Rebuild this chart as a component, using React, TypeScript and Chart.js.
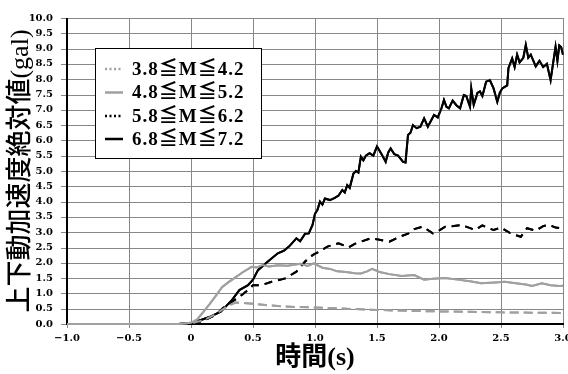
import React, { useEffect, useRef } from "react";
import { Chart, registerables } from "chart.js";

Chart.register(...registerables);

const seriesLabels = ["3.8≦M≦4.2", "4.8≦M≦5.2", "5.8≦M≦6.2", "6.8≦M≦7.2"];

const t1 = [-1, -0.1, 0, 0.1, 0.2, 0.3, 0.36, 0.45, 0.6, 0.75, 1.0, 1.25, 1.5, 1.75, 2.0, 2.25, 2.5, 2.75, 3.0];
const v1 = [0, 0, 0.03, 0.12, 0.32, 0.6, 0.7, 0.68, 0.62, 0.57, 0.54, 0.5, 0.46, 0.43, 0.41, 0.4, 0.38, 0.37, 0.36];

const t2 = [-1, -0.1, 0, 0.05, 0.1, 0.15, 0.2, 0.25, 0.3, 0.35, 0.42, 0.49, 0.53, 0.58, 0.63, 0.7, 0.78, 0.88, 0.94, 0.99, 1.06, 1.12, 1.18, 1.25, 1.32, 1.37, 1.42, 1.46, 1.52, 1.6, 1.7, 1.8, 1.88, 1.95, 2.05, 2.15, 2.25, 2.34, 2.45, 2.53, 2.62, 2.7, 2.75, 2.83, 2.9, 2.97, 3.0];
const v2 = [0, 0, 0.04, 0.15, 0.4, 0.65, 0.92, 1.2, 1.36, 1.5, 1.7, 1.87, 1.85, 1.93, 1.88, 1.92, 1.9, 1.97, 1.9, 1.98, 1.84, 1.8, 1.72, 1.7, 1.66, 1.65, 1.72, 1.8, 1.7, 1.63, 1.57, 1.6, 1.45, 1.48, 1.5, 1.45, 1.4, 1.33, 1.36, 1.38, 1.33, 1.29, 1.24, 1.33, 1.27, 1.24, 1.25];

const t3 = [-1, -0.1, 0, 0.1, 0.2, 0.27, 0.35, 0.41, 0.46, 0.5, 0.57, 0.65, 0.76, 0.85, 0.92, 0.98, 1.03, 1.1, 1.19, 1.27, 1.32, 1.37, 1.45, 1.52, 1.6, 1.68, 1.75, 1.8, 1.87, 1.95, 2.0, 2.05, 2.12, 2.18, 2.24, 2.29, 2.35, 2.44, 2.5, 2.56, 2.62, 2.66, 2.71, 2.78, 2.84, 2.89, 2.94, 2.98, 3.0];
const v3 = [0, 0, 0.02, 0.1, 0.3, 0.57, 0.78, 0.95, 1.11, 1.27, 1.27, 1.38, 1.49, 1.71, 2.04, 2.25, 2.36, 2.53, 2.64, 2.5, 2.62, 2.69, 2.8, 2.75, 2.69, 2.85, 2.95, 3.1, 3.18, 2.96, 3.05, 3.18, 3.2, 3.24, 3.15, 3.07, 3.22, 3.07, 3.15, 3.0, 2.9, 2.85, 3.13, 3.05, 3.2, 3.24, 3.15, 3.13, 3.05];

const t4 = [-1, -0.1, 0, 0.08, 0.16, 0.24, 0.33, 0.39, 0.46, 0.5, 0.54, 0.62, 0.7, 0.75, 0.79, 0.85, 0.88, 0.92, 0.95, 0.98, 1.0, 1.02, 1.04, 1.06, 1.08, 1.12, 1.16, 1.19, 1.22, 1.24, 1.26, 1.28, 1.31, 1.33, 1.35, 1.37, 1.39, 1.41, 1.44, 1.47, 1.5, 1.53, 1.57, 1.59, 1.61, 1.64, 1.67, 1.71, 1.73, 1.75, 1.77, 1.79, 1.82, 1.85, 1.88, 1.91, 1.93, 1.96, 1.99, 2.02, 2.04, 2.06, 2.08, 2.11, 2.14, 2.17, 2.2, 2.22, 2.25, 2.26, 2.28, 2.31, 2.33, 2.35, 2.38, 2.41, 2.44, 2.47, 2.49, 2.51, 2.55, 2.56, 2.59, 2.61, 2.63, 2.65, 2.68, 2.7, 2.72, 2.74, 2.78, 2.81, 2.84, 2.87, 2.9, 2.92, 2.94, 2.955, 2.97, 2.985, 3.0];
const v4 = [0, 0, 0.03, 0.13, 0.25, 0.4, 0.78, 1.11, 1.27, 1.45, 1.76, 2.04, 2.31, 2.4, 2.53, 2.8, 2.7, 2.95, 2.96, 3.24, 3.6, 3.73, 4.0, 3.9, 4.1, 4.05, 4.12, 4.2, 4.38, 4.3, 4.54, 4.45, 4.92, 5.0, 4.95, 5.47, 5.35, 5.5, 5.58, 5.5, 5.8, 5.6, 5.3, 5.6, 5.74, 5.55, 5.5, 5.3, 5.28, 6.18, 6.25, 6.5, 6.4, 6.45, 6.72, 6.45, 6.6, 6.83, 6.75, 7.05, 7.32, 7.1, 7.05, 7.3, 7.15, 7.05, 7.48, 7.45, 7.1, 7.7, 7.16, 7.55, 7.6, 7.45, 7.92, 7.97, 7.7, 7.26, 7.55, 7.7, 7.8, 8.36, 8.68, 8.4, 8.8, 8.55, 8.7, 9.12, 8.7, 8.8, 8.42, 8.6, 8.4, 8.5, 7.97, 8.52, 9.06, 8.6, 9.1, 9.05, 8.8];

const xTitle = "時間(s)";
const yTitle = "上下動加速度絶対値(gal)";

const GRAY = "#a0a0a0";
const styles = [
  { color: GRAY, dash: [9, 5], width: 2, legendDash: [2, 2.5] },
  { color: GRAY, dash: [], width: 2, legendDash: [] },
  { color: "#000", dash: [8, 6], width: 2, legendDash: [2, 2.5] },
  { color: "#000", dash: [], width: 2, legendDash: [] },
];

const zip = (t: number[], v: number[]) => t.map((x, i) => ({ x, y: v[i] }));

const overlayPlugin = {
  id: "gridAndLegend",
  afterDraw(chart: any) {
    const ctx = chart.ctx;
    const area = chart.chartArea;
    const sx = chart.scales.x;
    const sy = chart.scales.y;
    const L = Math.round(area.left);
    const R = Math.round(area.right);
    const T = Math.round(area.top);
    const B = Math.round(area.bottom);

    ctx.save();
    ctx.globalAlpha = 1;
    ctx.globalCompositeOperation = "source-over";
    ctx.fillStyle = "rgb(136,136,136)";
    sx.ticks.forEach((tk: any) => {
      const px = Math.round(sx.getPixelForValue(tk.value));
      ctx.fillRect(px, T, 1, B - T + 4);
    });
    sy.ticks.forEach((tk: any) => {
      const py = Math.round(sy.getPixelForValue(tk.value));
      ctx.fillRect(L - 6, py, R - L + 7, 1);
    });
    ctx.fillStyle = "#000";
    ctx.fillRect(L - 1, T, 2, B - T + 1);
    ctx.fillRect(L - 1, B - 1, R - L + 2, 2);
    ctx.restore();

    ctx.save();
    ctx.beginPath();
    ctx.rect(area.left - 1, area.top - 1, area.right - area.left + 2, area.bottom - area.top + 2);
    ctx.clip();
    chart.getSortedVisibleDatasetMetas().slice().reverse().forEach((m: any) => m.controller.draw());
    ctx.restore();

    ctx.save();
    ctx.fillStyle = "#000";
    ctx.fillRect(95, 48, 167, 111);
    ctx.fillStyle = "#fff";
    ctx.fillRect(96, 49, 165, 109);
    const rows = [69, 92.5, 116, 139];
    chart.data.datasets.forEach((ds: any, i: number) => {
      const st = styles[i];
      ctx.beginPath();
      ctx.strokeStyle = st.color;
      ctx.lineWidth = 2.5;
      ctx.setLineDash(st.legendDash);
      ctx.moveTo(105, rows[i]);
      ctx.lineTo(123, rows[i]);
      ctx.stroke();
      ctx.setLineDash([]);
      ctx.fillStyle = "#000";
      ctx.font = 'bold 19px "Liberation Serif", "Noto Sans CJK JP"';
      try { (ctx as any).letterSpacing = "1px"; } catch (e) {}
      ctx.textAlign = "left";
      ctx.textBaseline = "middle";
      ctx.fillText(ds.label, 132, rows[i] + 1);
    });
    ctx.restore();
  },
};

export default function App() {
  const ref = useRef<HTMLCanvasElement>(null);
  useEffect(() => {
    if (!ref.current) return;
    const series = [zip(t1, v1), zip(t2, v2), zip(t3, v3), zip(t4, v4)];
    const chart = new Chart(ref.current, {
      type: "line",
      data: {
        datasets: series.map((d, i) => ({
          label: seriesLabels[i],
          data: d,
          borderColor: styles[i].color,
          borderDash: styles[i].dash,
          borderWidth: styles[i].width,
          pointRadius: 0,
          tension: 0,
          fill: false,
        })),
      },
      options: {
        responsive: false,
        animation: false,
        layout: { padding: { top: 18, right: 5, left: 0, bottom: 0 } },
        plugins: { legend: { display: false }, tooltip: { enabled: false } },
        scales: {
          x: {
            type: "linear",
            min: -1,
            max: 3,
            afterFit: (s: any) => { s.height = 50; s.paddingRight = 0; },
            ticks: {
              stepSize: 0.5,
              color: "#000",
              padding: 4,
              font: { family: '"DejaVu Serif"', weight: "bold", size: 10 },
              callback: (v: any) => (v === 0 ? "0" : (v < 0 ? "\u2212" : "") + Math.abs(v).toFixed(1)),
            },
            grid: { display: false, tickLength: 4 },
            border: { display: false },
            title: {
              display: true,
              text: xTitle,
              color: "#000",
              padding: { top: 0, bottom: 0 },
              font: { family: '"Liberation Serif", "Noto Sans CJK JP"', weight: "bold", size: 26 },
            },
          },
          y: {
            min: 0,
            max: 10,
            afterFit: (s: any) => { s.width = 67; },
            ticks: {
              stepSize: 0.5,
              color: "#000",
              padding: 8,
              font: { family: '"DejaVu Serif"', weight: "bold", size: 10 },
              callback: (v: any) => Number(v).toFixed(1),
            },
            grid: { display: false, tickLength: 6 },
            border: { display: false },
            title: {
              display: true,
              text: yTitle,
              color: "#000",
              padding: { top: 6, bottom: 0 },
              font: { family: '"Liberation Serif", "Noto Sans CJK JP"', weight: "500", size: 26 },
            },
          },
        },
      },
      plugins: [overlayPlugin],
    });
    return () => chart.destroy();
  }, []);
  return (
    <div style={{ position: "absolute", left: 0, top: 0, width: 568, height: 374, background: "#fff" }}>
      <canvas ref={ref} width={568} height={374} style={{ display: "block" }} />
    </div>
  );
}
